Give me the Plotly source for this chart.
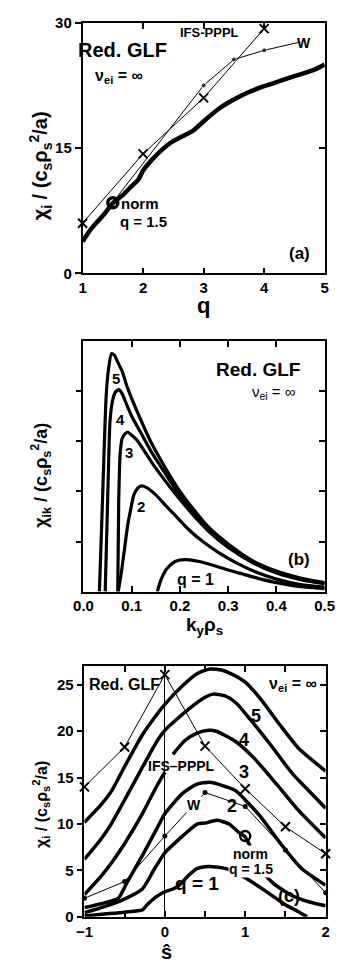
import plotly.graph_objects as go

# ---------------- panel (a): chi_i vs q ----------------
q_glf = [1.0, 1.15, 1.36, 1.5, 1.67, 1.82, 1.92, 2.0, 2.2, 2.45, 2.65, 2.83, 3.0, 3.25, 3.5, 3.75, 4.0, 4.25, 4.5, 4.8, 5.0]
chi_glf = [3.8, 5.4, 7.1, 8.4, 9.4, 10.5, 11.2, 12.3, 14.0, 15.6, 16.4, 17.1, 18.2, 19.7, 20.8, 21.7, 22.4, 23.0, 23.6, 24.3, 25.0]
q_ifs = [1, 2, 3, 4]
chi_ifs = [6.0, 14.3, 21.0, 29.3]
q_w = [1.5, 3.0, 3.5, 4.0, 4.6]
chi_w = [8.5, 22.5, 25.6, 26.7, 27.7]
q_norm = [1.5]
chi_norm = [8.45]

# ---------------- panel (b): chi_ik vs k_y rho_s ----------------
k5 = [0.033, 0.04, 0.047, 0.052, 0.058, 0.064, 0.07, 0.08, 0.09, 0.1, 0.12, 0.14, 0.16, 0.18, 0.2, 0.23, 0.26, 0.3, 0.35, 0.4, 0.45, 0.5]
c5 = [0.0, 2.0, 3.9, 4.45, 4.75, 4.72, 4.6, 4.4, 4.1, 3.85, 3.4, 2.98, 2.63, 2.3, 2.0, 1.62, 1.28, 0.95, 0.62, 0.41, 0.27, 0.18]
k4 = [0.045, 0.05, 0.055, 0.06, 0.066, 0.073, 0.08, 0.09, 0.1, 0.12, 0.14, 0.16, 0.18, 0.2, 0.23, 0.26, 0.3, 0.35, 0.4, 0.45, 0.5]
c4 = [0.0, 1.8, 3.4, 3.8, 3.98, 4.03, 3.95, 3.72, 3.5, 3.15, 2.8, 2.5, 2.2, 1.92, 1.56, 1.24, 0.92, 0.6, 0.39, 0.25, 0.17]
k3 = [0.071, 0.073, 0.076, 0.08, 0.086, 0.092, 0.1, 0.11, 0.12, 0.14, 0.16, 0.18, 0.2, 0.23, 0.26, 0.3, 0.35, 0.4, 0.45, 0.5]
c3 = [0.0, 1.8, 2.75, 3.05, 3.15, 3.18, 3.12, 3.03, 2.9, 2.6, 2.33, 2.08, 1.84, 1.5, 1.2, 0.88, 0.58, 0.37, 0.24, 0.16]
k2 = [0.072, 0.078, 0.085, 0.092, 0.098, 0.104, 0.112, 0.12, 0.13, 0.15, 0.17, 0.195, 0.22, 0.25, 0.28, 0.32, 0.36, 0.4, 0.45, 0.5]
c2 = [0.0, 0.35, 0.85, 1.35, 1.65, 1.92, 2.06, 2.11, 2.08, 1.93, 1.72, 1.47, 1.22, 0.98, 0.78, 0.56, 0.38, 0.25, 0.14, 0.09]
k1 = [0.153, 0.16, 0.17, 0.18, 0.19, 0.2, 0.21, 0.22, 0.24, 0.27, 0.3, 0.33, 0.36, 0.4, 0.45, 0.5]
c1 = [0.0, 0.22, 0.42, 0.53, 0.6, 0.63, 0.64, 0.635, 0.6, 0.52, 0.43, 0.35, 0.27, 0.18, 0.1, 0.06]

# ---------------- panel (c): chi_i vs shear ----------------
s5 = [-1, -0.8, -0.66, -0.5, -0.28, -0.1, 0, 0.22, 0.4, 0.56, 0.7, 0.8, 1.0, 1.19, 1.43, 1.66, 2.0]
v5 = [10.2, 12.0, 13.6, 16.2, 19.6, 21.8, 22.9, 24.9, 26.2, 26.7, 26.6, 26.3, 25.3, 23.5, 20.7, 18.2, 15.7]
s4 = [-1, -0.8, -0.66, -0.5, -0.28, -0.1, 0, 0.3, 0.49, 0.6, 0.75, 0.88, 1.07, 1.31, 1.59, 1.8, 2.0]
v4 = [6.2, 8.3, 10.1, 12.6, 16.1, 18.9, 20.1, 22.4, 23.6, 24.0, 23.8, 23.1, 21.2, 18.6, 15.4, 13.5, 11.7]
s3 = [-1, -0.8, -0.66, -0.5, -0.28, -0.1, 0, None, 0.1, 0.25, 0.4, 0.55, 0.64, 0.88, 1.11, 1.39, 1.66, 2.0]
v3 = [2.4, 4.3, 5.85, 7.9, 11.1, 14.1, 15.6, None, 17.5, 19.0, 19.8, 20.1, 20.0, 18.9, 17.1, 14.3, 11.5, 8.5]
s2 = [-1, -0.8, -0.58, -0.47, -0.28, -0.1, 0, 0.22, 0.4, 0.56, 0.7, 0.88, 1.0, 1.19, 1.43, 1.7, 2.0]
v2 = [1.0, 1.4, 2.0, 3.7, 6.6, 9.5, 11.1, 13.3, 14.3, 14.5, 14.2, 13.6, 12.6, 10.8, 8.0, 5.2, 3.4]
sn = [-1, -0.75, -0.53, -0.28, -0.13, 0, 0.22, 0.4, 0.5, 0.65, 0.8, 0.92, 1.0, 1.1, 1.2, 1.35, 1.58, 1.8, 2.0]
vn = [0.45, 1.1, 1.8, 3.0, 5.15, 6.9, 8.7, 10.0, 10.1, 10.4, 10.0, 9.1, 8.6, 6.9, 5.0, 3.6, 2.3, 1.6, 1.2]
s1 = [-1, -0.75, -0.5, -0.28, -0.22, -0.1, 0, 0.1, 0.18, 0.3, 0.4, 0.5, 0.6, 0.8, 1.0, 1.25, 1.5, 1.65, 1.77]
v1 = [0.1, 0.3, 0.5, 0.75, 1.3, 2.2, 2.7, 3.0, 3.4, 4.5, 5.2, 5.4, 5.4, 5.1, 4.2, 2.8, 1.3, 0.6, 0.0]
s_ifs = [-1, -0.5, 0, 0.5, 1, 1.5, 2]
v_ifs = [14.0, 18.3, 26.1, 18.4, 13.8, 9.7, 6.8]
s_w = [-1, -0.5, 0, 0.5, 1, 1.5, 2]
v_w = [2.0, 3.8, 8.7, 13.4, 11.9, 7.2, 2.6]
s_norm = [1.0]
v_norm = [8.7]

W, H = 346, 971
FONT = "Liberation Sans Narrow, Arial Narrow, Liberation Sans, Arial, sans-serif"


def px(xl, xr, yt, yb):
    return [xl / W, xr / W], [1 - yb / H, 1 - yt / H]


fig = go.Figure()


def thick(x, y, xa, ya, w=3.5):
    fig.add_trace(go.Scatter(x=x, y=y, xaxis=xa, yaxis=ya, mode="lines",
                             line=dict(color="black", width=w, shape="spline", smoothing=0.6),
                             showlegend=False, hoverinfo="skip"))


# panel a
thick(q_glf, chi_glf, "x", "y", 4.5)
fig.add_trace(go.Scatter(x=q_ifs, y=chi_ifs, xaxis="x", yaxis="y", mode="lines+markers",
                         line=dict(color="black", width=1),
                         marker=dict(symbol="x-thin", size=9, color="black", line=dict(width=2, color="black")),
                         cliponaxis=False, showlegend=False))
fig.add_trace(go.Scatter(x=q_w, y=chi_w, xaxis="x", yaxis="y", mode="lines+markers",
                         line=dict(color="black", width=1),
                         marker=dict(symbol="circle", size=[0, 5, 5, 5, 0], color="black"),
                         cliponaxis=False, showlegend=False))
fig.add_trace(go.Scatter(x=q_norm, y=chi_norm, xaxis="x", yaxis="y", mode="markers",
                         marker=dict(symbol="circle-open", size=10, color="black", line=dict(width=3.5)),
                         showlegend=False))

# panel b
for kk, cc in [(k5, c5), (k4, c4), (k3, c3), (k2, c2), (k1, c1)]:
    thick(kk, cc, "x2", "y2", 3.2)

# panel c
for ss, vv in [(s5, v5), (s4, v4), (s3, v3), (s2, v2), (sn, vn), (s1, v1)]:
    thick(ss, vv, "x3", "y3", 3.5)
fig.add_trace(go.Scatter(x=s_ifs, y=v_ifs, xaxis="x3", yaxis="y3", mode="lines+markers",
                         line=dict(color="black", width=1),
                         marker=dict(symbol="x-thin", size=9, color="black", line=dict(width=2, color="black")),
                         cliponaxis=False, showlegend=False))
fig.add_trace(go.Scatter(x=s_w, y=v_w, xaxis="x3", yaxis="y3", mode="lines+markers",
                         line=dict(color="black", width=1),
                         marker=dict(symbol="circle", size=5, color="black"),
                         cliponaxis=False, showlegend=False))
fig.add_trace(go.Scatter(x=s_norm, y=v_norm, xaxis="x3", yaxis="y3", mode="markers",
                         marker=dict(symbol="circle-open", size=10, color="black", line=dict(width=2.5)),
                         showlegend=False))

# dummy traces so overlay (right-side tick) axes render
for ax, ya in [("x", "y4"), ("x2", "y5"), ("x3", "y6")]:
    fig.add_trace(go.Scatter(x=[None], y=[None], xaxis=ax, yaxis=ya, showlegend=False))

tickfont = dict(family=FONT, size=15, color="black", weight="bold")
base = dict(showline=True, linecolor="black", linewidth=1.5, mirror=True, showgrid=False,
            zeroline=False, tickcolor="black", tickwidth=1.5, ticklen=6, tickfont=tickfont,
            fixedrange=True)

da_x, da_y = px(77, 334, 14, 269)
db_x, db_y = px(78, 334, 338, 593)
dc_x, dc_y = px(79, 335, 669, 924)

layout = dict(
    width=W, height=H, margin=dict(l=0, r=0, t=0, b=0),
    paper_bgcolor="white", plot_bgcolor="white", showlegend=False,
    xaxis=dict(base, domain=da_x, anchor="y", range=[1, 5], tickvals=[1, 2, 3, 4, 5],
               ticks="inside", mirror="ticks"),
    yaxis=dict(base, domain=da_y, anchor="x", range=[0, 30], tickvals=[0, 15, 30], ticks="outside"),
    yaxis4=dict(overlaying="y", anchor="x", side="right", range=[0, 30], tickvals=[15], ticks="inside",
                ticklen=6, tickwidth=1.5, tickcolor="black", showticklabels=False, showline=False,
                showgrid=False, zeroline=False, fixedrange=True),
    xaxis2=dict(base, domain=db_x, anchor="y2", range=[0, 0.5], tickvals=[0, 0.1, 0.2, 0.3, 0.4, 0.5],
                ticktext=["0.0", "0.1", "0.2", "0.3", "0.4", "0.5"], ticks="inside", mirror="ticks"),
    yaxis2=dict(base, domain=db_y, anchor="x2", range=[0, 5], tickvals=[1, 2, 3, 4], ticks="outside",
                showticklabels=False),
    yaxis5=dict(overlaying="y2", anchor="x2", side="right", range=[0, 5], tickvals=[1, 2, 3, 4],
                ticks="inside", ticklen=6, tickwidth=1.5, tickcolor="black", showticklabels=False,
                showline=False, showgrid=False, zeroline=False, fixedrange=True),
    xaxis3=dict(base, domain=dc_x, anchor="y3", range=[-1, 2], tickvals=[-1, -0.5, 0, 0.5, 1, 1.5, 2],
                ticktext=["\u22121", "", "0", "", "1", "", "2"], ticks="inside", mirror="ticks",
                zeroline=True, zerolinecolor="black", zerolinewidth=1.2),
    yaxis3=dict(base, domain=dc_y, anchor="x3", range=[0, 27], tickvals=[0, 5, 10, 15, 20, 25],
                ticks="outside"),
    yaxis6=dict(overlaying="y3", anchor="x3", side="right", range=[0, 27], tickvals=[5, 10, 15, 20, 25],
                ticks="inside", ticklen=6, tickwidth=1.5, tickcolor="black", showticklabels=False,
                showline=False, showgrid=False, zeroline=False, fixedrange=True),
)
fig.update_layout(**layout)


def ann(text, x, y, xref, yref, size, bold=True, angle=0, bg=None):
    fig.add_annotation(text=text, x=x, y=y, xref=xref, yref=yref, showarrow=False,
                       xanchor="center", yanchor="middle",
                       textangle=angle, bgcolor=bg, borderpad=0,
                       font=dict(family=FONT, size=size, color="black",
                                 weight="bold" if bold else "normal"))


# panel a texts
ann("Red. GLF", 1.66, 26.7, "x", "y", 20)
ann("\u03bd<sub>ei</sub> = \u221e", 1.6, 23.6, "x", "y", 16)
ann("IFS-PPPL", 3.1, 28.8, "x", "y", 13)
ann("W", 4.66, 27.6, "x", "y", 14)
ann("norm", 1.95, 8.3, "x", "y", 15)
ann("q = 1.5", 2.0, 6.15, "x", "y", 15)
ann("(a)", 4.58, 2.4, "x", "y", 17)
ann("q", 205 / W, 1 - 302 / H, "paper", "paper", 22)
ann("\u03c7<sub>i</sub> / (c<sub>s</sub>\u03c1<sub>s</sub><sup>2</sup>/a)", 32 / W, 1 - 160 / H,
    "paper", "paper", 20, angle=-90)

# panel b texts
ann("Red. GLF", 0.362, 4.44, "x2", "y2", 19)
ann("\u03bd<sub>ei</sub> = \u221e", 0.395, 3.98, "x2", "y2", 15, bold=False)
ann("5", 0.067, 4.25, "x2", "y2", 15)
ann("4", 0.077, 3.43, "x2", "y2", 15)
ann("3", 0.094, 2.78, "x2", "y2", 15)
ann("2", 0.12, 1.7, "x2", "y2", 15)
ann("q = 1", 0.232, 0.25, "x2", "y2", 16)
ann("(b)", 0.447, 0.65, "x2", "y2", 17)
ann("k<sub>y</sub>\u03c1<sub>s</sub>", 206 / W, 1 - 628 / H, "paper", "paper", 19)
ann("\u03c7<sub>ik</sub> / (c<sub>s</sub>\u03c1<sub>s</sub><sup>2</sup>/a)", 33 / W, 1 - 475 / H,
    "paper", "paper", 18, angle=-90)

# panel c texts
ann("Red. GLF", -0.5, 25.0, "x3", "y3", 16)
ann("\u03bd<sub>ei</sub> = \u221e", 1.6, 25.0, "x3", "y3", 16)
ann("5", 1.13, 21.6, "x3", "y3", 18)
ann("4", 0.99, 19.1, "x3", "y3", 18)
ann("3", 0.99, 15.6, "x3", "y3", 18)
ann("2", 0.835, 11.9, "x3", "y3", 18)
ann("norm", 1.07, 6.8, "x3", "y3", 14, bg="white")
ann("q = 1.5", 1.07, 5.1, "x3", "y3", 14, bg="white")
ann("q = 1", 0.40, 3.6, "x3", "y3", 19)
ann("(c)", 1.54, 2.2, "x3", "y3", 18)
ann("IFS\u2013PPPL", 0.21, 16.3, "x3", "y3", 14)
ann("W", 0.36, 12.1, "x3", "y3", 14, bg="white")
ann("\u015d", 166 / W, 1 - 960 / H, "paper", "paper", 20)
ann("\u03c7<sub>i</sub> / (c<sub>s</sub>\u03c1<sub>s</sub><sup>2</sup>/a)", 33 / W, 1 - 810 / H,
    "paper", "paper", 16, angle=-90)

fig.write_html("out.html")
